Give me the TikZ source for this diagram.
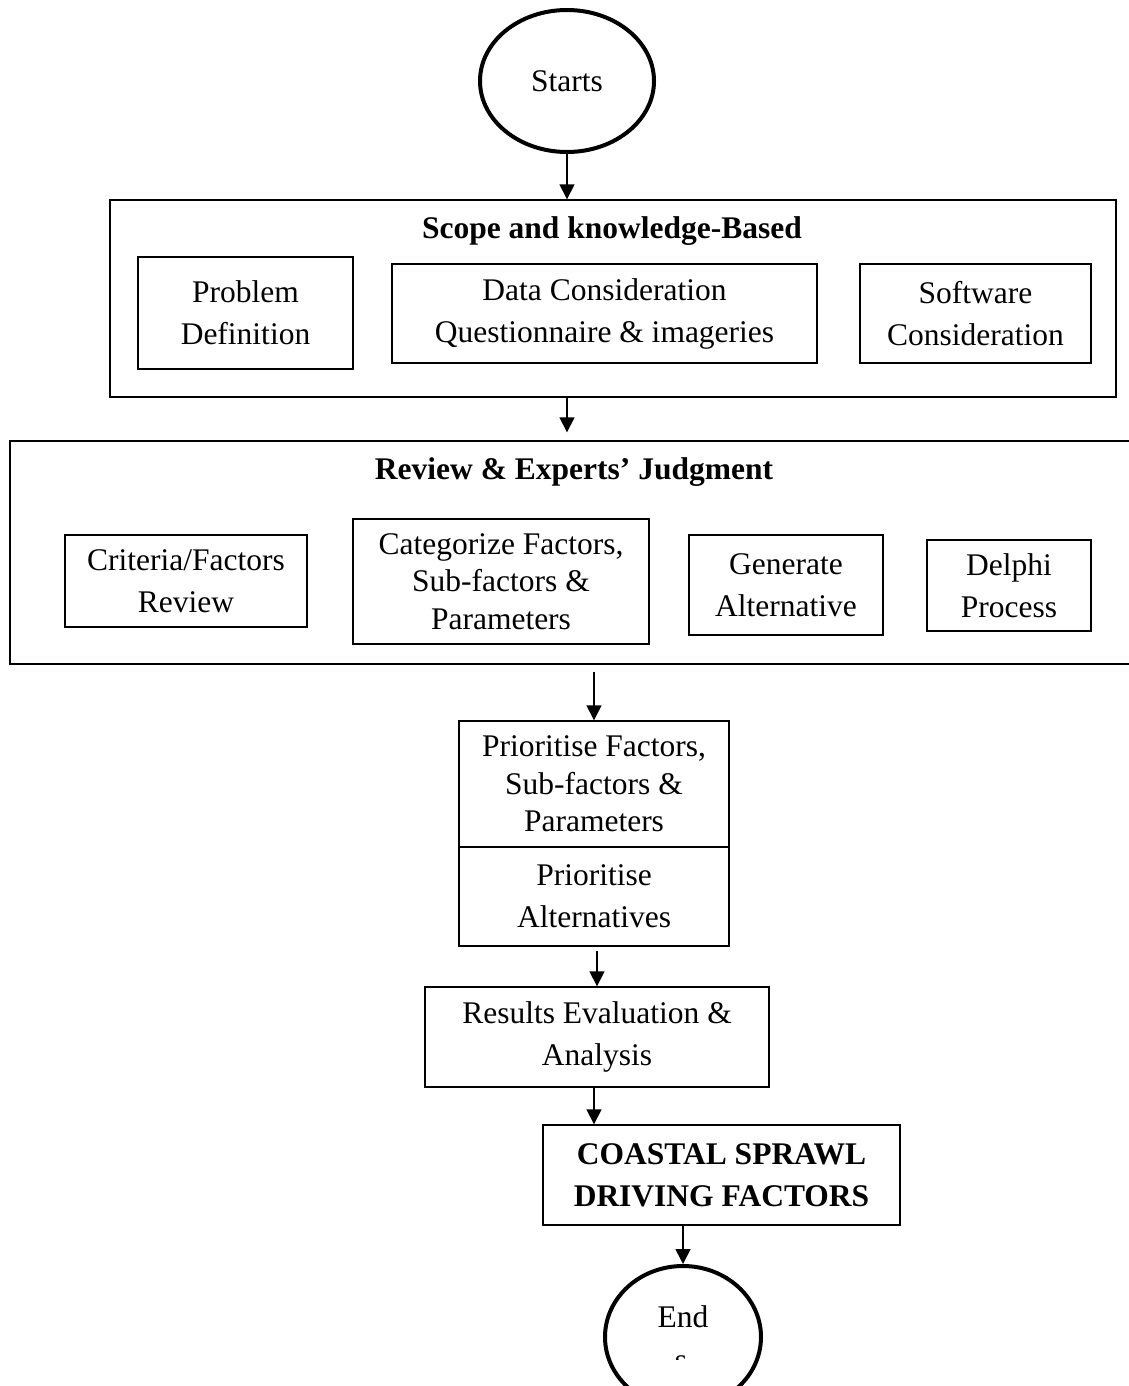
\documentclass[tikz,border=0pt]{standalone}
\usepackage{fontspec}
\setmainfont{Liberation Serif}
\usetikzlibrary{arrows.meta,shapes.geometric}
\tikzset{
  box/.style={draw, rectangle, line width=1.4pt, align=center, inner sep=0pt},
  terminal/.style={draw, ellipse, line width=4pt, inner sep=0pt},
  heading/.style={font=\fontsize{31.5}{42}\selectfont\bfseries},
  tight/.style={font=\fontsize{31.5}{37.5}\selectfont},
  flow/.style={-{Triangle[length=15pt,width=15pt]}, line width=1.6pt},
}
\begin{document}
\begin{tikzpicture}[x=1pt,y=-1pt,font=\fontsize{31.5}{42}\selectfont]
  \useasboundingbox (0,0) rectangle (1129,1386);
  % start
  \node[terminal, minimum width=174pt, minimum height=142pt] (start) at (567,81) {Starts};
  % scope and knowledge
  \node[box, minimum width=1006pt, minimum height=197pt] (scope) at (613,298.5) {};
  \node[heading] (scopetitle) at (612,231) {Scope and knowledge-Based};
  \node[box, minimum width=215pt, minimum height=112pt] (problem) at (245.5,313) {Problem\\Definition};
  \node[box, minimum width=425pt, minimum height=99pt] (data) at (604.5,313.5) {Data Consideration\\Questionnaire \& imageries};
  \node[box, minimum width=231pt, minimum height=99pt] (software) at (975.5,313.5) {Software\\Consideration};
  % review
  \node[box, minimum width=1160pt, minimum height=223pt] (review) at (590,552.5) {};
  \node[heading] (reviewtitle) at (574,472) {Review \& Experts’ Judgment};
  \node[box, minimum width=242pt, minimum height=92pt] (criteria) at (186,581) {Criteria/Factors\\Review};
  \node[box, tight, minimum width=296pt, minimum height=125pt] (categorize) at (501,581.5) {Categorize Factors,\\Sub-factors \&\\Parameters};
  \node[box, minimum width=194pt, minimum height=100pt] (generate) at (786,585) {Generate\\Alternative};
  \node[box, minimum width=164pt, minimum height=91pt] (delphi) at (1009,585.5) {Delphi\\Process};
  % prioritise
  \node[box, tight, minimum width=270pt, minimum height=126pt] (prio) at (594,784) {Prioritise Factors,\\Sub-factors \&\\Parameters};
  \node[box, minimum width=270pt, minimum height=99pt] (prioalt) at (594,896.5) {Prioritise\\Alternatives};
  \node[box, minimum width=344pt, minimum height=100pt] (results) at (597,1037) {Results Evaluation \&\\Analysis};
  \node[box, heading, minimum width=357pt, minimum height=100pt] (coastal) at (721.5,1175) {COASTAL SPRAWL\\DRIVING FACTORS};
  % end
  \node[terminal, minimum width=156pt, minimum height=142pt] (finish) at (683,1337) {};
  \node (endtext) at (683,1317) {End};
  \begin{scope}
    \clip (650,1340) rectangle (716,1359);
    \node[anchor=base, inner sep=0pt] (endtail) at (681,1370) {s};
  \end{scope}
  \begin{scope}[flow]
    \draw (start.south) -- (start.south |- scope.north);
    \draw (scope.south -| start) -- ([yshift=8pt]review.north -| start);
    \draw ([yshift=-7pt]review.south -| prio) -- (prio.north);
    \draw ([yshift=-4pt]prioalt.south -| results) -- (results.north);
    \draw (results.south -| prio) -- (coastal.north -| prio);
    \draw (coastal.south -| endtext) -- (finish.north -| endtext);
  \end{scope}
\end{tikzpicture}
\end{document}
